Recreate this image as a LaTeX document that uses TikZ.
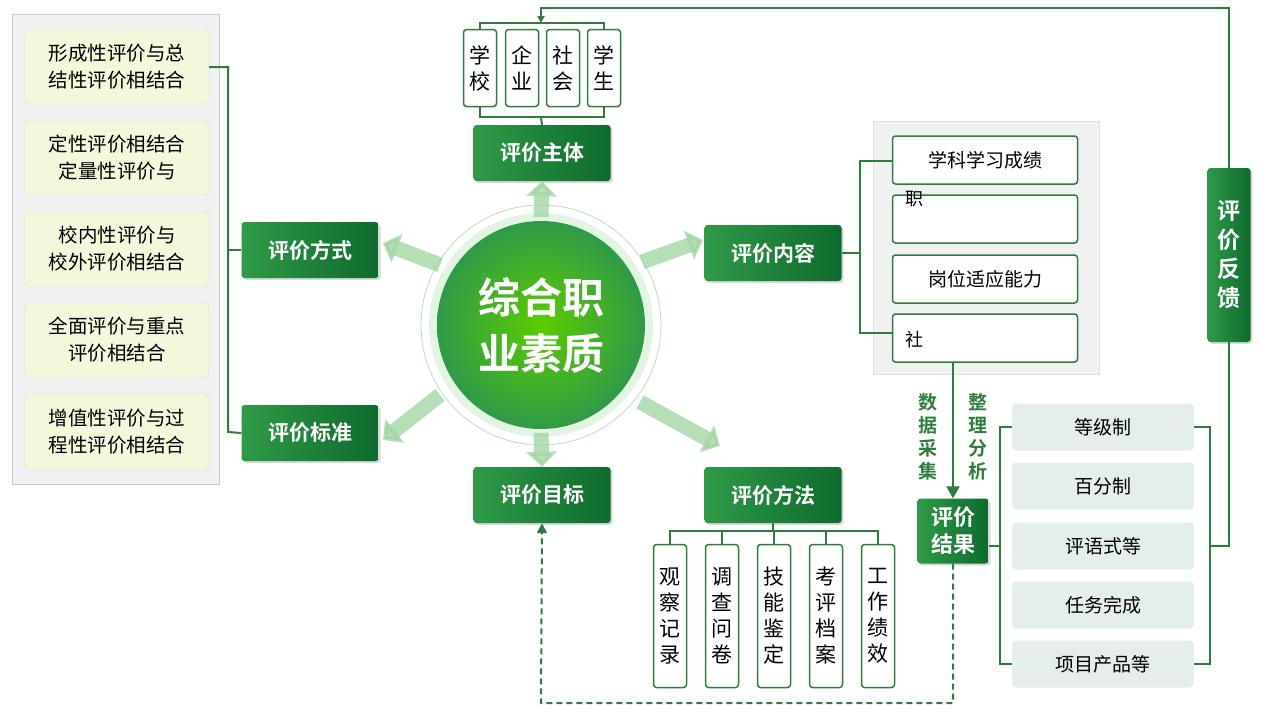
\documentclass[tikz,border=0pt]{standalone}
\usepackage{fontspec}
\setmainfont{Noto Sans CJK SC}
\newfontfamily\cjkb{Noto Sans CJK SC Bold}
\usetikzlibrary{arrows.meta,shadows}
\definecolor{dg}{HTML}{0E6A2E}
\definecolor{mg}{HTML}{2F9A48}
\definecolor{ln}{HTML}{2E7D3E}
\definecolor{yb}{HTML}{F4F7DC}
\definecolor{sb}{HTML}{E4EEEB}
\definecolor{pan}{HTML}{EFF2F1}
\tikzset{
 gbox/.style={rectangle,rounded corners=3pt,left color=mg,right color=dg,text=white,font=\cjkb\fontsize{21}{24}\selectfont,minimum width=137pt,minimum height=56pt,drop shadow={opacity=0.3,shadow xshift=2pt,shadow yshift=-2pt}},
 ybox/.style={rectangle,rounded corners=4pt,fill=yb,draw=yb!80!gray,minimum width=184pt,minimum height=74pt,align=center,font=\fontsize{19.5}{27}\selectfont,text=black},
 wbox/.style={rectangle,rounded corners=3pt,fill=white,draw=ln,line width=1.5pt,minimum width=185pt,minimum height=48pt,font=\fontsize{19}{22}\selectfont},
 vbox/.style={rectangle,rounded corners=3pt,fill=white,draw=ln,line width=1.5pt,minimum width=33pt,align=center,font=\fontsize{21}{26}\selectfont},
 sbox/.style={rectangle,rounded corners=4pt,fill=sb,minimum width=182pt,minimum height=47pt,font=\fontsize{19}{22}\selectfont},
 conn/.style={ln,line width=2pt},
 fat/.style={line width=15pt,draw=green!55!black!40,opacity=0.7,-{Triangle[length=15pt,width=30pt]}},
 vlab/.style={text=ln,font=\cjkb\fontsize{19}{23}\selectfont,align=center}
}
\begin{document}
\begin{tikzpicture}[x=1pt,y=-1pt]
\useasboundingbox (0,0) rectangle (1280,720);
% left panel
\node[draw=gray!40,fill=pan,minimum width=207pt,minimum height=470pt,anchor=north west,line width=1pt] (lp) at (12,14) {};
\node[ybox] (y1) at (117,67) {形成性评价与总\\结性评价相结合};
\node[ybox] (y2) at (117,158) {定性评价相结合\\定量性评价与};
\node[ybox] (y3) at (117,249) {校内性评价与\\校外评价相结合};
\node[ybox] (y4) at (117,340) {全面评价与重点\\评价相结合};
\node[ybox] (y5) at (117,432) {增值性评价与过\\程性评价相结合};
% main boxes
\node[gbox] (fs) at (310,250) {评价方式};
\node[gbox] (bz) at (310,433) {评价标准};
\node[gbox] (zt) at (542,153) {评价主体};
\node[gbox] (mb) at (542,495) {评价目标};
\node[gbox] (nr) at (773,253) {评价内容};
\node[gbox] (ff) at (773,495) {评价方法};
% left bracket
\coordinate (lb1) at (228,67); \coordinate (lb2) at (228,432); \coordinate (lb3) at (228,250);
\draw[conn] (y1.east) -- (lb1) -- (lb2) -- (bz.west);
\draw[conn] (lb3) -- (fs.west);
% center circle
\node[circle,draw=green!30!gray!40,line width=0.8pt,minimum size=240pt] (ring) at (541,325) {};
\node[circle,fill=green!50!gray!15,minimum size=224pt] (halo) at (541,325) {};
\node[circle,inner color=green!55!yellow!80!black,outer color=mg,minimum size=208pt,text=white,align=center,font=\cjkb\fontsize{42}{56}\selectfont] (c) at (541,325) {综合职\\业素质};
% fat arrows
\coordinate (a1) at (541,217); \coordinate (a2) at (541,433);
\coordinate (a3) at (642,262); \coordinate (a4) at (440,265);
\coordinate (a5) at (440,395); \coordinate (a6) at (640,402);
\coordinate (t3) at (703,240); \coordinate (t4) at (383,243);
\coordinate (t5) at (383,440); \coordinate (t6) at (720,446);
\draw[fat] (a1) -- (zt.south);
\draw[fat] (a2) -- (mb.north);
\draw[fat] (a3) -- (t3);
\draw[fat] (a4) -- (t4);
\draw[fat] (a5) -- (t5);
\draw[fat] (a6) -- (t6);
% top small boxes
\node[vbox,minimum height=77pt] (s1) at (480,68) {学\\校};
\node[vbox,minimum height=77pt] (s2) at (522,68) {企\\业};
\node[vbox,minimum height=77pt] (s3) at (563,68) {社\\会};
\node[vbox,minimum height=77pt] (s4) at (604,68) {学\\生};
\coordinate (tb1) at (480,23); \coordinate (tb2) at (604,23); \coordinate (tm) at (541,23);
\coordinate (bb1) at (480,117); \coordinate (bb2) at (604,117); \coordinate (bm) at (541,117);
\draw[conn] (s1.north) -- (tb1) -- (tb2) -- (s4.north);
\draw[conn] (s1.south) -- (bb1) -- (bb2) -- (s4.south);
\draw[conn] (bm) -- (zt.north);
% feedback
\node[gbox,minimum width=43pt,minimum height=174pt,align=center,font=\cjkb\fontsize{23}{29}\selectfont] (fk) at (1229,255) {评\\价\\反\\馈};
\coordinate (f1) at (1229,8); \coordinate (f2) at (541,8);
\draw[conn,-{Triangle[length=7pt,width=7pt]}] (fk.north) -- (f1) -- (f2) -- (tm);
% right panel
\node[fill=pan,draw=gray!25,minimum width=226pt,minimum height=253pt,anchor=north west] (rp) at (873,121) {};
\node[wbox] (w1) at (985,160) {学科学习成绩};
\node[wbox] (w2) at (985,219) {};
\node[wbox] (w3) at (985,279) {岗位适应能力};
\node[wbox] (w4) at (985,338) {};
\node[anchor=north west,font=\fontsize{18}{20}\selectfont,inner sep=0pt] (zhi) at (905,191) {职};
\node[anchor=west,font=\fontsize{18}{20}\selectfont,inner sep=0pt] (she) at (905,340) {社};
\coordinate (rb1) at (860,161); \coordinate (rb2) at (860,333); \coordinate (rbm) at (860,253);
\draw[conn] (w1.west |- rb1) -- (rb1) -- (rb2) -- (w4.west |- rb2);
\draw[conn] (nr.east) -- (rbm);
% result
\node[gbox,minimum width=71pt,minimum height=65pt,align=center,font=\cjkb\fontsize{22}{27}\selectfont] (jg) at (953,531) {评价\\结果};
\draw[conn,-{Triangle[length=12pt,width=13pt]}] (w4.south -| jg.north) -- (jg.north);
\node[vlab] (l1) at (928,437) {数\\据\\采\\集};
\node[vlab] (l2) at (978,437) {整\\理\\分\\析};
% score boxes
\node[sbox] (k1) at (1103,427) {等级制};
\node[sbox] (k2) at (1103,486) {百分制};
\node[sbox] (k3) at (1103,546) {评语式等};
\node[sbox] (k4) at (1103,605) {任务完成};
\node[sbox] (k5) at (1103,664) {项目产品等};
\coordinate (kl1) at (1000,427); \coordinate (kl2) at (1000,664); \coordinate (klm) at (1000,546);
\coordinate (kr1) at (1210,427); \coordinate (kr2) at (1210,664); \coordinate (krm) at (1210,546);
\coordinate (krf) at (1229,546);
\draw[conn] (k1.west) -- (kl1) -- (kl2) -- (k5.west);
\draw[conn] (jg.east |- klm) -- (klm);
\draw[conn] (k1.east) -- (kr1) -- (kr2) -- (k5.east);
\draw[conn] (krm) -- (krf) -- (fk.south);
% dashed
\coordinate (d1) at (953,703); \coordinate (d2) at (541,703);
\draw[conn,dashed,dash pattern=on 6pt off 4pt,-{Triangle[length=10pt,width=10pt]}] (jg.south) -- (d1) -- (d2) -- (mb.south);
% method boxes
\node[vbox,minimum height=143pt] (m1) at (670,616) {观\\察\\记\\录};
\node[vbox,minimum height=143pt] (m2) at (722,616) {调\\查\\问\\卷};
\node[vbox,minimum height=143pt] (m3) at (774,616) {技\\能\\鉴\\定};
\node[vbox,minimum height=143pt] (m4) at (826,616) {考\\评\\档\\案};
\node[vbox,minimum height=143pt] (m5) at (878,616) {工\\作\\绩\\效};
\coordinate (mm) at (773,531); \coordinate (ml) at (670,531); \coordinate (mr) at (878,531);
\draw[conn] (ff.south) -- (mm);
\draw[conn] (m1.north) -- (ml) -- (mr) -- (m5.north);
\foreach \i in {m2,m3,m4} \draw[conn] (\i.north) -- (\i.north |- mm);
\end{tikzpicture}
\end{document}
